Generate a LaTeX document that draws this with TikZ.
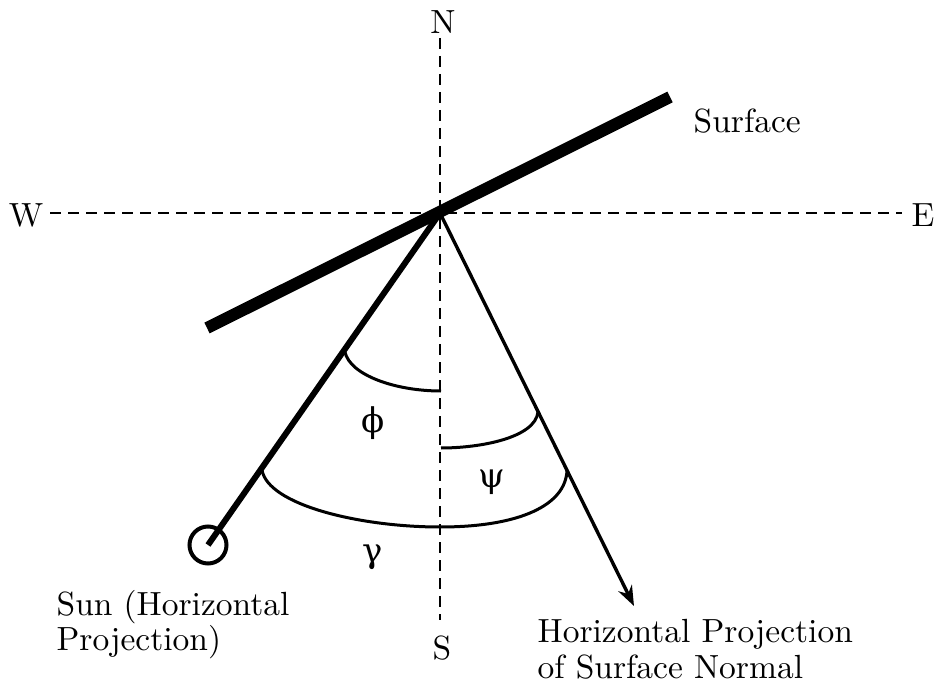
\documentclass[tikz,border=0pt]{standalone}
\usepackage{fontspec}
\newfontfamily\grk{DejaVu Serif}
\usetikzlibrary{arrows.meta}
\begin{document}
\begin{tikzpicture}[x=1pt,y=-1pt,
  axis/.style={line width=2.2pt,dash pattern=on 11pt off 7pt},
  lbl/.style={font=\fontsize{10}{12}\selectfont,inner sep=0pt,scale=3.35},
  angarc/.style={line width=3pt},
  greek/.style={font=\grk\fontsize{34}{38}\selectfont,inner sep=0pt}]
\useasboundingbox (0,0) rectangle (938,687);
% compass points
\node[lbl] (N) at (443,22) {N};
\node[lbl] (S) at (442,648) {S};
\node[lbl] (W) at (26,215) {W};
\node[lbl] (E) at (923,215) {E};
\coordinate (O) at (440,213);
\coordinate (ntop) at (440,38);
\coordinate (sbot) at (440,620);
\coordinate (wend) at (50,213);
\coordinate (eend) at (902,213);
\draw[axis] (ntop) -- (sbot);
\draw[axis] (wend) -- (eend);
% surface
\coordinate (surfA) at (207,328);
\coordinate (surfB) at (670,97);
\draw[line width=12pt] (surfA) -- (surfB);
\node[lbl,anchor=base west] (surface) at (693,133) {Surface};
% sun
\coordinate (suncentre) at (208,545);
\draw[line width=6pt] (O) -- (suncentre);
\node[circle,draw,line width=4pt,minimum size=37pt,inner sep=0pt] (sun) at (suncentre) {};
\node[lbl,anchor=base west] (sunlbl1) at (56,615) {Sun (Horizontal};
\node[lbl,anchor=base west] (sunlbl2) at (56,650) {Projection)};
% surface normal
\coordinate (tip) at (634,606);
\draw[line width=3.4pt,-{Stealth[length=20pt,width=15pt]}] (O) -- (tip);
\node[lbl,anchor=base west] (nrm1) at (537,642) {Horizontal Projection};
\node[lbl,anchor=base west] (nrm2) at (537,678) {of Surface Normal};
% angle arcs
\coordinate (phiA) at (345,352);
\coordinate (phiB) at (441,391);
\draw[angarc] (phiA) .. controls (350,375) and (395,391) .. (phiB);
\coordinate (psiA) at (441,448);
\coordinate (psiB) at (538,412);
\draw[angarc] (psiA) .. controls (480,448) and (535,438) .. (psiB);
\coordinate (gamA) at (262,470);
\coordinate (gamM) at (440,527);
\coordinate (gamB) at (567,470);
\draw[angarc] (gamA) .. controls (268,505) and (360,527) .. (gamM)
   .. controls (520,527) and (566,505) .. (gamB);
\node[greek] (phi) at (373,423) {ϕ};
\node[greek] (psi) at (492,482) {ψ};
\node[greek] (gam) at (373,557) {γ};
\end{tikzpicture}
\end{document}
